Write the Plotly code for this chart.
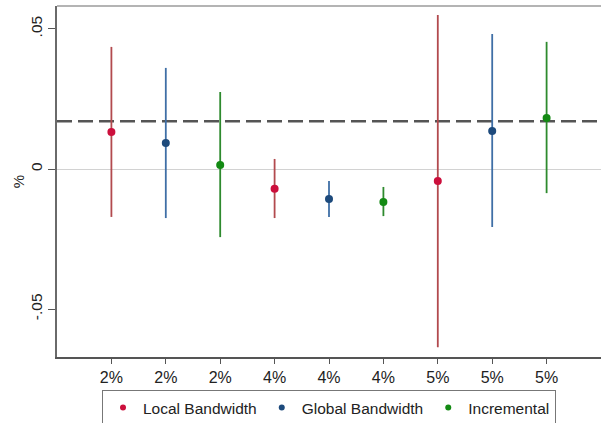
import plotly.graph_objects as go

# Category positions and tick labels
tick_pos = [1, 2, 3, 4, 5, 6, 7, 8, 9]
tick_labels = ["2%", "2%", "2%", "4%", "4%", "4%", "5%", "5%", "5%"]

# Local bandwidth estimates and confidence bounds
local_x = [1, 4, 7]
local_est = [0.0132, -0.0070, -0.0043]
local_lo = [-0.0171, -0.0175, -0.0636]
local_hi = [0.0436, 0.0036, 0.0550]

# Global bandwidth estimates and confidence bounds
global_x = [2, 5, 8]
global_est = [0.0093, -0.0107, 0.0136]
global_lo = [-0.0175, -0.0171, -0.0207]
global_hi = [0.0361, -0.0043, 0.0482]

# Incremental estimates and confidence bounds
incr_x = [3, 6, 9]
incr_est = [0.0014, -0.0118, 0.0182]
incr_lo = [-0.0243, -0.0168, -0.0086]
incr_hi = [0.0275, -0.0064, 0.0454]

# Reference level (dashed line)
ref_level = 0.0171

series = [
    ("Local Bandwidth", local_x, local_est, local_lo, local_hi, "#cc0f3c", "#b24a4e"),
    ("Global Bandwidth", global_x, global_est, global_lo, global_hi, "#1d4a7c", "#3f6fa6"),
    ("Incremental", incr_x, incr_est, incr_lo, incr_hi, "#138a13", "#2e8a2e"),
]

fig = go.Figure()

for name, xs, est, lo, hi, dot_col, bar_col in series:
    # point estimates with their confidence intervals
    fig.add_trace(go.Scatter(
        x=xs, y=est, mode="markers", name=name, showlegend=False,
        marker=dict(color=dot_col, size=8),
        error_y=dict(
            type="data", symmetric=False,
            array=[h - e for h, e in zip(hi, est)],
            arrayminus=[e - l for e, l in zip(est, lo)],
            color=bar_col, thickness=1.8, width=0,
        ),
    ))
    # small-dot legend entry
    fig.add_trace(go.Scatter(
        x=[None], y=[None], mode="markers", name=name,
        marker=dict(color=dot_col, size=6),
    ))

# Dashed horizontal reference line across the plot
fig.add_shape(type="line", xref="paper", x0=0, x1=1, yref="y",
              y0=ref_level, y1=ref_level,
              line=dict(color="#555555", width=2.5, dash="15px,6px"), layer="below")

# Light top border of the plot region
fig.add_shape(type="line", xref="paper", yref="paper", x0=0, x1=1, y0=1, y1=1,
              line=dict(color="#b4b4b4", width=2))

font = dict(family="Liberation Sans, Arial, sans-serif", size=15, color="#222222")
legend_font = dict(font, size=15.5)
xtick_font = dict(font, size=16)
ytick_font = dict(font, size=15.5)

fig.update_layout(
    width=602, height=423,
    margin=dict(l=57, r=1, t=6, b=66, autoexpand=False),
    paper_bgcolor="white", plot_bgcolor="white",
    font=font,
    showlegend=True,
    legend=dict(
        orientation="h", x=0.5, xanchor="center", y=-0.094, yanchor="top",
        bordercolor="#777777", borderwidth=1, font=legend_font,
        itemwidth=30,
    ),
    xaxis=dict(
        range=[0, 10], tickvals=tick_pos, ticktext=tick_labels,
        showgrid=False, zeroline=False,
        showline=True, linecolor="#555555", linewidth=1.5,
        ticks="outside", ticklen=5, tickcolor="#555555", tickwidth=1,
        tickfont=xtick_font,
    ),
    yaxis=dict(
        range=[-0.0671, 0.0582], tickvals=[-0.05, 0, 0.05],
        ticktext=["-.05", "0", ".05"], tickangle=-90,
        showgrid=False, zeroline=True, zerolinecolor="#d2d2d2", zerolinewidth=1,
        showline=True, linecolor="#6a6a6a", linewidth=1.5,
        ticks="outside", ticklen=7, tickcolor="#555555", tickwidth=1,
        tickfont=ytick_font,
        title=dict(text="%", font=font, standoff=0),
    ),
)

fig.write_html("out.html")
